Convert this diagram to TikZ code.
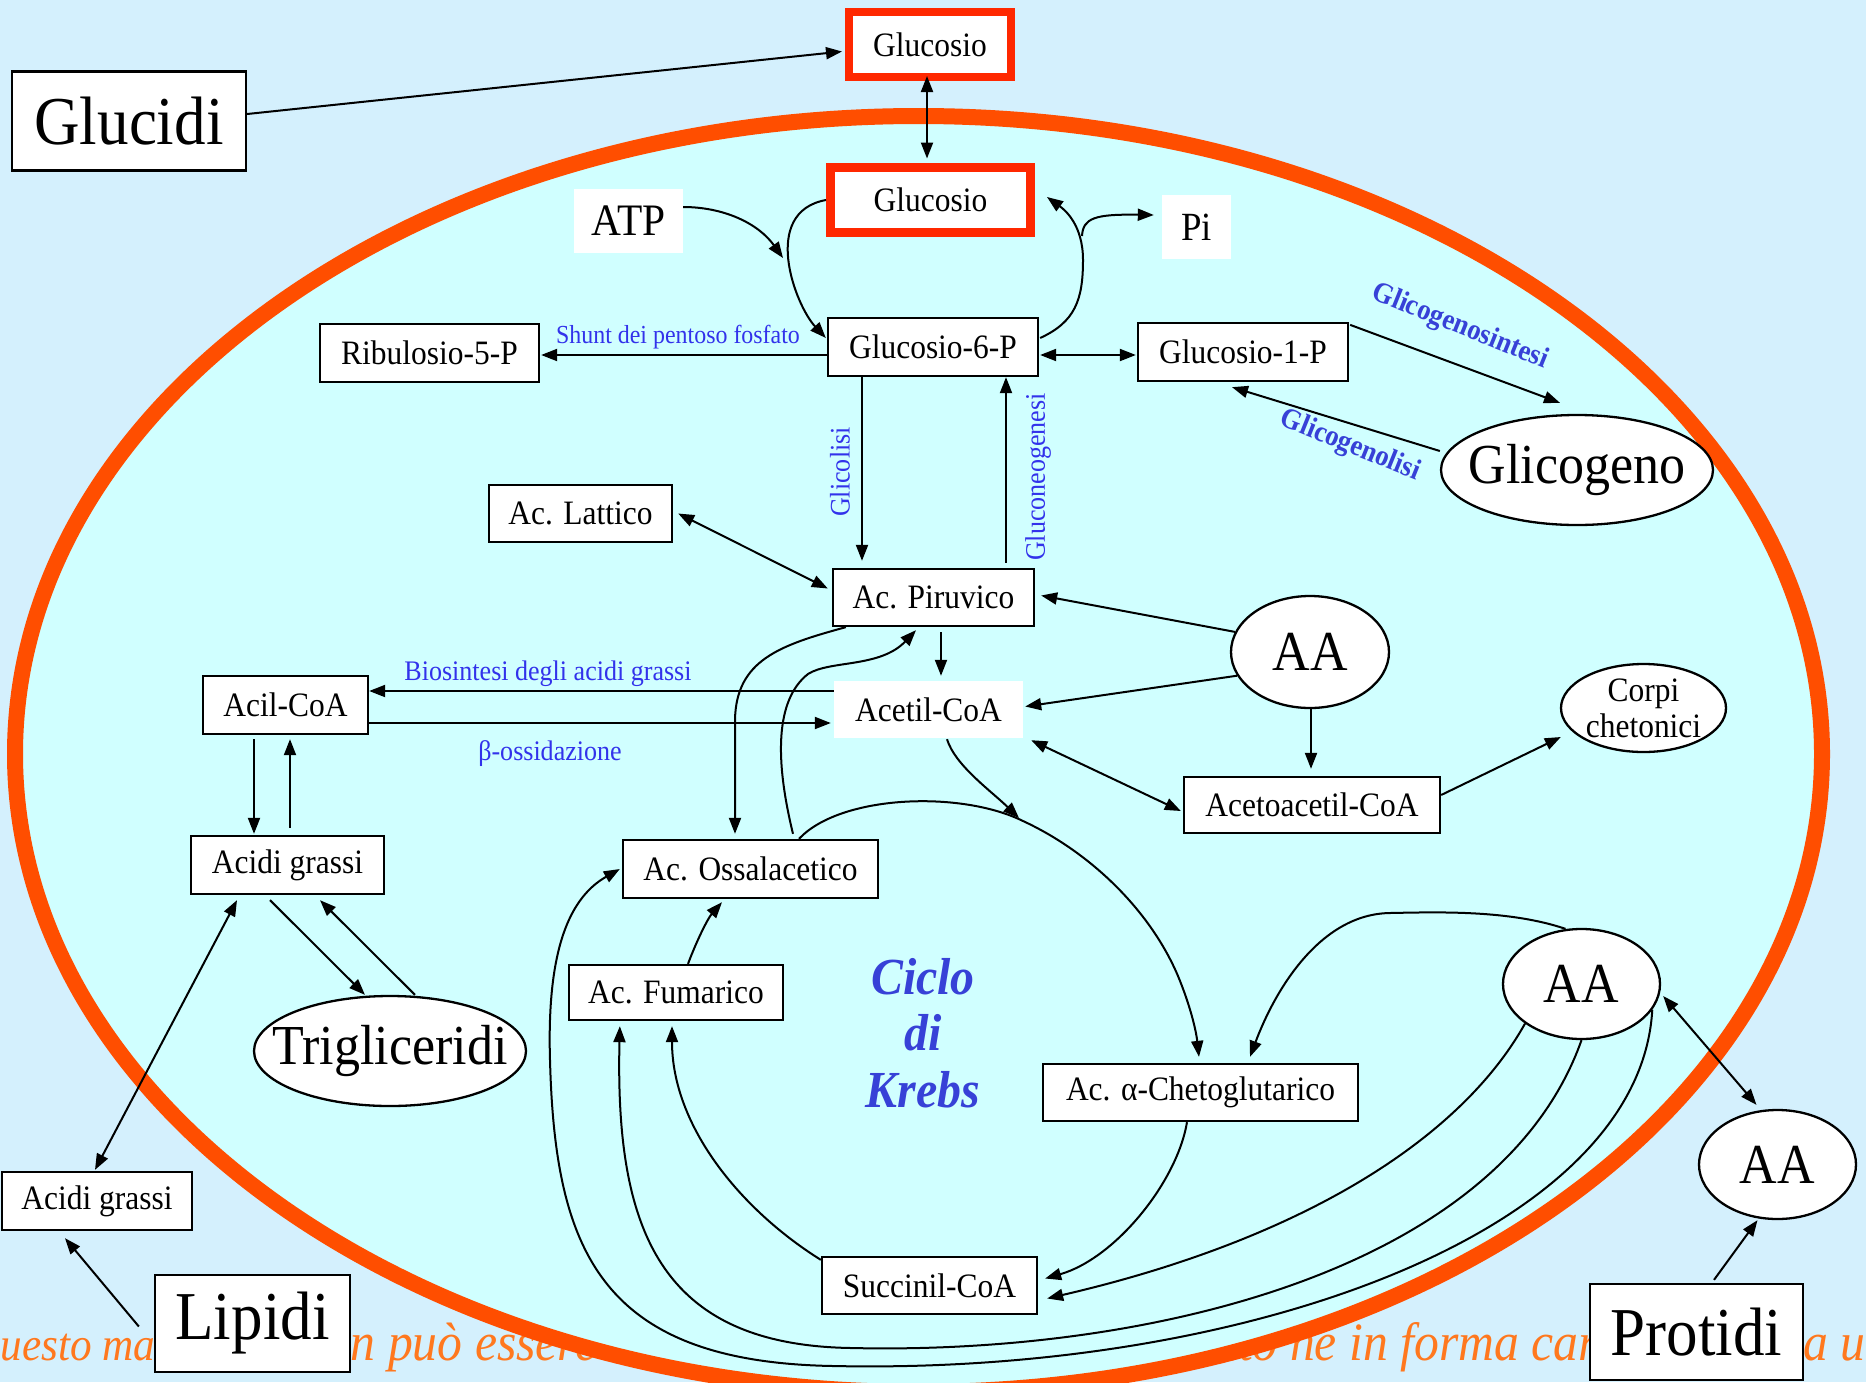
\documentclass[tikz,border=0pt]{standalone}
\usepackage{fontspec}
\setmainfont{Liberation Serif}[FakeStretch=0.92]
\usetikzlibrary{arrows.meta,shapes.geometric,calc}
\definecolor{bgblue}{RGB}{212,240,253}
\definecolor{cellfill}{RGB}{208,255,255}
\definecolor{membrane}{RGB}{255,78,0}
\definecolor{boxred}{RGB}{255,40,0}
\definecolor{lblblue}{RGB}{50,50,235}
\definecolor{boldblue}{RGB}{55,65,215}
\definecolor{watermark}{RGB}{255,120,30}
\newcommand{\mainsz}{\fontsize{34.2}{38}\selectfont}
\newcommand{\bigsz}{\fontsize{68.5}{76}\selectfont}
\newcommand{\ovalsz}{\fontsize{56.5}{62}\selectfont}
\newcommand{\lblsz}{\fontsize{28.3}{32}\selectfont}
\newcommand{\shuntsz}{\fontsize{26}{30}\selectfont}
\newcommand{\blblsz}{\fontsize{29.3}{33}\selectfont}
\newcommand{\krebsz}{\fontsize{52}{56.5}\selectfont}
\newcommand{\wmsz}{\fontsize{54}{60}\selectfont}
\newcommand{\wmasz}{\fontsize{47}{54}\selectfont}
\tikzset{
  box/.style={draw=black, line width=2.3pt, fill=white, inner sep=0pt, font=\mainsz},
  plainbox/.style={fill=white, inner sep=0pt, font=\mainsz},
  redbox/.style={draw=boxred, line width=8pt, fill=white, inner sep=0pt, font=\mainsz},
  oval/.style={ellipse, draw=black, line width=2.3pt, fill=white, inner xsep=-30pt, inner ysep=0pt, font=\ovalsz},
  arr/.style={line width=2pt, -{Triangle[length=16pt,width=12pt]}},
  darr/.style={line width=2pt, {Triangle[length=16pt,width=12pt]}-{Triangle[length=16pt,width=12pt]}},
  lbl/.style={text=lblblue, font=\lblsz, inner sep=0pt},
  blbl/.style={text=boldblue, font=\blblsz\bfseries, inner sep=0pt},
  wm/.style={text=watermark, font=\wmsz\itshape, inner sep=0pt, anchor=base west},
}
\begin{document}
\begin{tikzpicture}[x=1pt,y=-1pt]
\useasboundingbox (0,0) rectangle (1866,1382);
\fill[bgblue] (0,0) rectangle (1866,1382);
% watermark text behind the cell
\node[wm, font=\wmasz\itshape] (wm1) at (-31,1360) {Questo materiale};
\node[wm] (wm1b) at (301,1360) {non può essere};
\node[wm] (wm2) at (1075,1360) {riprodotto ne in forma cartacea senza un};
% cell
\draw[line width=16pt, draw=membrane, fill=cellfill] (918.5,754) ellipse [x radius=903.5pt, y radius=638pt];

% nodes
\node[box, minimum width=234pt, minimum height=99pt, font=\bigsz] (glucidi) at (129,121) {Glucidi};
\node[redbox, minimum width=162pt, minimum height=65pt] (glu0) at (930,44.5) {Glucosio};
\node[redbox, line width=9pt, minimum width=200pt, minimum height=65pt] (glu1) at (930.5,200) {Glucosio};
\node[plainbox, minimum width=109pt, minimum height=64pt, font=\fontsize{45}{50}\selectfont] (atp) at (628.5,221) {ATP};
\node[plainbox, minimum width=69pt, minimum height=64pt, font=\fontsize{40}{46}\selectfont] (pi) at (1196.5,227) {Pi};
\node[box, minimum width=210pt, minimum height=58pt] (g6p) at (933,347) {Glucosio-6-P};
\node[box, minimum width=210pt, minimum height=58pt] (g1p) at (1243,352) {Glucosio-1-P};
\node[box, minimum width=219pt, minimum height=58pt] (ribu) at (429.5,353) {Ribulosio-5-P};
\node[oval, minimum width=272pt, minimum height=110pt] (glicogeno) at (1577,470) {Glicogeno};
\node[box, minimum width=183pt, minimum height=57pt] (lattico) at (580.5,513.5) {Ac. Lattico};
\node[box, minimum width=201pt, minimum height=57pt] (piruvico) at (933.5,597.5) {Ac. Piruvico};
\node[oval, minimum width=158pt, minimum height=112pt] (aa1) at (1310,652) {AA};
\node[plainbox, minimum width=189pt, minimum height=57pt] (acetil) at (928.5,709.5) {Acetil-CoA};
\node[box, minimum width=165pt, minimum height=58pt] (acil) at (285.5,705) {Acil-CoA};
\node[box, minimum width=193pt, minimum height=58pt] (acidi1) at (287.5,865) {Acidi grassi};
\node[oval, minimum width=272pt, minimum height=110pt] (trig) at (390,1051) {Trigliceridi};
\node[box, minimum width=190pt, minimum height=58pt] (acidi2) at (97,1201) {Acidi grassi};
\node[box, minimum width=195pt, minimum height=97pt, font=\bigsz] (lipidi) at (252.5,1323.5) {Lipidi};
\node[box, minimum width=255pt, minimum height=58pt] (ossal) at (750.5,869) {Ac. Ossalacetico};
\node[box, minimum width=214pt, minimum height=55pt] (fumarico) at (676,992.5) {Ac. Fumarico};
\node[box, minimum width=256pt, minimum height=56pt] (aceto) at (1312,805) {Acetoacetil-CoA};
\node[oval, minimum width=165pt, minimum height=88pt, align=center, font=\fontsize{34.2}{36}\selectfont] (corpi) at (1643.5,708) {Corpi\\chetonici};
\node[box, minimum width=315pt, minimum height=57pt] (cheto) at (1200.5,1092.5) {Ac. α-Chetoglutarico};
\node[box, minimum width=215pt, minimum height=57pt] (succ) at (929.5,1285.5) {Succinil-CoA};
\node[oval, minimum width=157pt, minimum height=110pt] (aa2) at (1581.5,984) {AA};
\node[oval, minimum width=157pt, minimum height=109pt] (aa3) at (1777.5,1164.5) {AA};
\node[box, minimum width=213pt, minimum height=96pt, font=\bigsz] (protidi) at (1696.5,1332) {Protidi};
\node[text=boldblue, font=\krebsz\bfseries\itshape, align=center, inner sep=0pt] (krebs) at (923,1033) {Ciclo\\di\\Krebs};

% labels
\node[lbl, font=\shuntsz] (lshunt) at (678,337) {Shunt dei pentoso fosfato};
\node[blbl, rotate=-22] (lsint) at (1460,327) {Glicogenosintesi};
\node[blbl, rotate=-22] (llisi) at (1350,446) {Glicogenolisi};
\node[lbl, rotate=90] (lglic) at (840,472) {Glicolisi};
\node[lbl, rotate=90] (lgluc) at (1038,477) {Gluconeogenesi};
\node[lbl] (lbio) at (548,674) {Biosintesi degli acidi grassi};
\node[lbl] (lbeta) at (550,754) {β-ossidazione};

% connectors
\draw[arr] ($(glucidi.east)+(0,-7)$) -- ($(glu0.west)+(-3,7)$);
\draw[darr] ($(glu0.south)+(-3,-5)$) -- ($(glu1.north)+(-3.5,-4.5)$);
\coordinate (atptip) at (783,258);
\draw[arr] ($(atp.east)+(0,-14)$) .. controls +(40,0) and +(-25,-35) .. (atptip);
\draw[arr] (glu1.west) .. controls (760,212) and (795,305) .. ($(g6p.west)+(-1,-9)$);
\draw[arr] ($(g6p.east)+(1,-9)$) .. controls (1075,322) and (1083,300) .. (1083,260) .. controls (1083,225) and (1065,210) .. ($(glu1.east)+(12,-3)$);
\coordinate (piroot) at (1082,236);
\draw[arr] (piroot) .. controls (1083,218) and (1095,214) .. ($(pi.west)+(-8,-12)$);
\draw[darr] ($(g6p.east)+(1,8)$) -- ($(g1p.west)+(-1,3)$);
\draw[arr] ($(g6p.west)+(0,8)$) -- ($(ribu.east)+(1,2)$);
\draw[arr] ($(g1p.north east)+(1,3)$) -- ($(glicogeno.north)+(-17,-11)$);
\draw[arr] ($(glicogeno.west)+(0,-19)$) -- ($(g1p.south)+(-11,5)$);
\draw[arr] ($(g6p.south)+(-71,0)$) -- ($(piruvico.north)+(-71.5,-7)$);
\draw[arr] ($(piruvico.north)+(72.5,-5)$) -- ($(g6p.south)+(73,0)$);
\draw[darr] ($(lattico.east)+(5,0)$) -- ($(piruvico.west)+(-4,-9)$);
\draw[arr] (aa1.165) -- ($(piruvico.east)+(6,-2)$);
\draw[arr] (aa1.198) -- ($(acetil.east)+(2,-3)$);
\draw[arr] ($(aa1.south)+(1,0)$) -- ($(aceto.north)+(-1,-7)$);
\draw[darr] ($(acetil.south east)+(8,2)$) -- ($(aceto.west)+(-2,6)$);
\draw[arr] ($(aceto.east)+(0,-10)$) -- ($(corpi.west)+(1,29)$);
\draw[arr] ($(piruvico.south)+(7.5,5)$) -- ($(acetil.north)+(12.5,-5)$);
\draw[arr] ($(acetil.west)+(0,-18.5)$) -- ($(acil.east)+(0,-14)$);
\draw[arr] ($(acil.east)+(0,18)$) -- ($(acetil.west)+(-3,13.5)$);
\draw[arr] ($(acil.south)+(-31.5,4)$) -- ($(acidi1.north)+(-33.5,-1)$);
\draw[arr] ($(acidi1.north)+(2.5,-7)$) -- ($(acil.south)+(4.5,4)$);
\draw[arr] ($(acidi1.south)+(-17.5,5)$) -- ($(trig.north)+(-25,0)$);
\draw[arr] ($(trig.north)+(25,0)$) -- ($(acidi1.south)+(32.5,5)$);
\draw[darr] ($(acidi1.south)+(-50.5,5)$) -- ($(acidi2.north)+(-2,-1)$);
\draw[arr] ($(lipidi.west)+(-15,3)$) -- ($(acidi2.south)+(-32,7)$);
% Krebs region
\draw[arr] ($(piruvico.south west)+(14,0)$) .. controls +(-66,18) and (736,660) .. (735,720) -- ($(ossal.north)+(-15.5,-5)$);
\draw[arr] ($(ossal.north)+(42.5,-5)$) .. controls (775,760) and (775,700) .. (808,674) .. controls (830,660) and (880,668) .. ($(piruvico.south)+(-17.5,3)$);
\coordinate (krebsin) at (1019,818);
\draw[arr] ($(acetil.south)+(18.5,1)$) .. controls +(8,26) and +(-29,-28) .. (krebsin);
\draw[arr] ($(ossal.north)+(48.5,0)$) .. controls (840,795) and (960,790) .. (1023,821) .. controls (1090,852) and (1150,910) .. (1178,976) .. controls (1190,1005) and (1196,1030) .. ($(cheto.north)+(-1.5,-6)$);
\draw[arr] ($(fumarico.north)+(12,0)$) .. controls +(9,-24) and +(-14,16) .. ($(ossal.south)+(-28.5,3)$);
\draw[arr] ($(cheto.south)+(-13.5,0)$) .. controls +(-10,60) and +(70,-20) .. ($(succ.east)+(7,-7)$);
\draw[arr] ($(succ.north west)+(0,4)$) .. controls +(-80,-50) and +(0,100) .. ($(fumarico.south)+(-4,5)$);
\draw[arr] ($(aa2.north)+(-16,1)$) .. controls (1510,910) and (1440,912) .. (1390,913) .. controls (1320,914) and (1275,990) .. ($(cheto.north)+(49.5,-6)$);
\draw[arr] (aa2.215) .. controls (1460,1140) and (1300,1240) .. ($(succ.east)+(9,13)$);
\draw[arr] (aa2.south) .. controls (1500,1270) and (1150,1355) .. (851,1348) .. controls (660,1345) and (615,1230) .. ($(fumarico.south west)+(52,5)$);
\draw[arr] (aa2.340) .. controls (1640,1230) and (1250,1375) .. (833,1366) .. controls (600,1362) and (555,1250) .. (550,1060) .. controls (547,960) and (565,900) .. ($(ossal.west)+(-2,0)$);
\draw[darr] ($(aa2.east)+(2,12)$) -- ($(aa3.north)+(-21,-4)$);
\draw[arr] ($(protidi.north)+(17.5,-3)$) -- ($(aa3.south)+(-20,0)$);
\end{tikzpicture}
\end{document}
